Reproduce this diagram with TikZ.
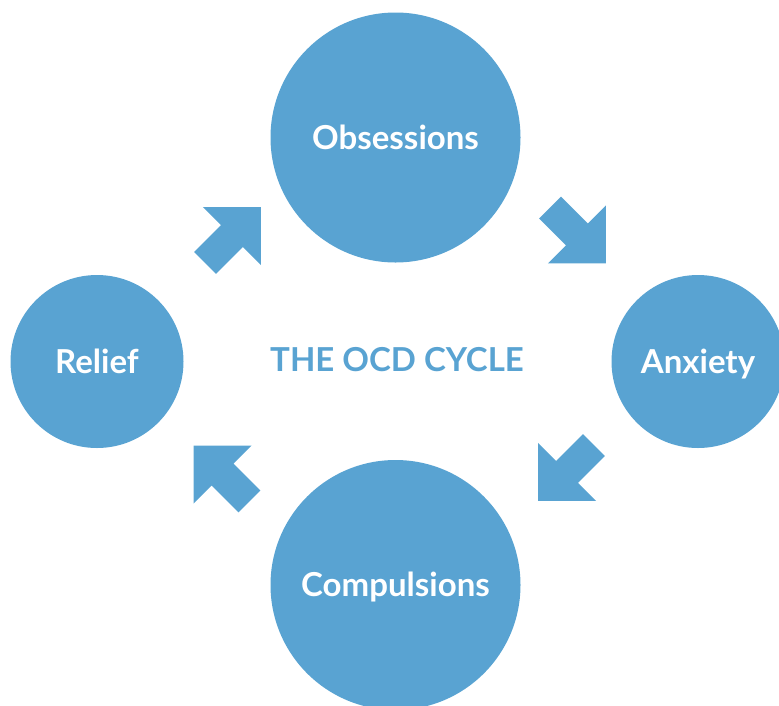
\documentclass[tikz,border=0pt]{standalone}
\usepackage{fontspec}
\setmainfont{Lato}
\definecolor{ocd}{RGB}{89,163,210}
\tikzset{
    CB/.style ={circle,minimum size = 250pt, inner sep=0pt, fill=ocd, text=white, text height=23.5pt, text depth=0pt, font=\bfseries\fontsize{33}{40}\selectfont},
    CS/.style ={circle,minimum size = 173pt, inner sep=0pt, fill=ocd, text=white, text height=23.5pt, text depth=0pt, font=\bfseries\fontsize{33}{40}\selectfont},
    TT/.style ={text=ocd, text height=23.5pt, text depth=0pt, font=\bfseries\fontsize{33}{40}\selectfont},
    AR/.pic ={\fill[ocd] (39.5,0) -- (-1.5,41) -- (-1.5,15.5) -- (-39.5,15.5) -- (-39.5,-15.5) -- (-1.5,-15.5) -- (-1.5,-41) -- cycle;}}
\begin{document}
\begin{tikzpicture}[x=1pt,y=-1pt]
        \useasboundingbox (0,0) rectangle (779,705);
        \clip (0,0) rectangle (779,705);
        \node[CB] (1) at(395.5,137.5){Obsessions};
        \node[CS] (2) at(698,361.5){Anxiety};
        \node[CB] (3) at(395.5,585){Compulsions};
        \node[CS] (4) at(97,361.5){Relief};
        \node[TT] (0) at(397,359.5){THE OCD CYCLE};
        \pic[rotate=45] at(233,235){AR};
        \pic[rotate=-45] at(578,235.5){AR};
        \pic[rotate=-135] at(566,473){AR};
        \pic[rotate=135] at(221.5,473.5){AR};
    \end{tikzpicture}
\end{document}
